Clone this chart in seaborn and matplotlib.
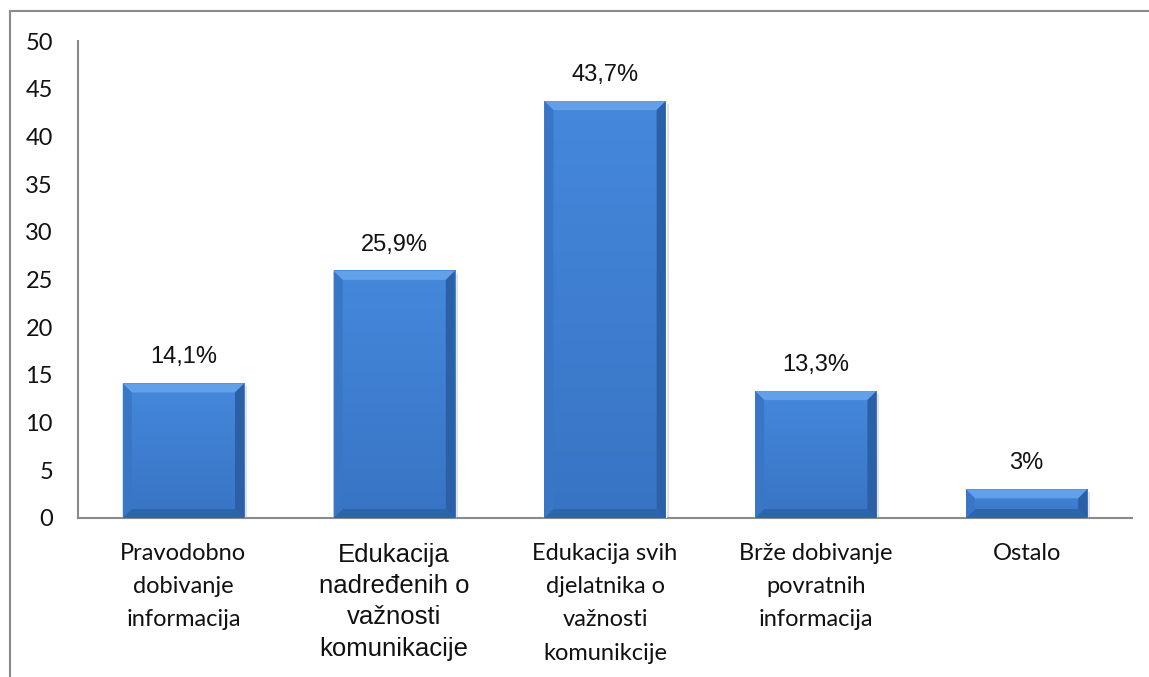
import matplotlib
import numpy as np
import pandas as pd
import seaborn as sns
from matplotlib import pyplot as plt
from matplotlib.lines import Line2D
from matplotlib.patches import Polygon

matplotlib.use("Agg")

categories = [
    "Pravodobno\ndobivanje\ninformacija",
    "Edukacija\nnadređenih o\nvažnosti\nkomunikacije",
    "Edukacija svih\ndjelatnika o\nvažnosti\nkomunikcije",
    "Brže dobivanje\npovratnih\ninformacija",
    "Ostalo",
]
values = [14.1, 25.9, 43.7, 13.3, 3.0]
value_labels = ["14,1%", "25,9%", "43,7%", "13,3%", "3%"]
y_ticks = list(range(0, 55, 5))

W, H = 1149, 677
sns.set_theme(style="white")
plt.rcParams["font.family"] = ["Lato", "DejaVu Sans"]

fig = plt.figure(figsize=(W / 100, H / 100), dpi=100)
ax = fig.add_axes([78 / W, 1 - 518 / H, (1132 - 78) / W, (518 - 41) / H])

df = pd.DataFrame({"cat": categories, "val": values})
sns.barplot(data=df, x="cat", y="val", color="#3d80d3", width=0.575,
            saturation=1, ax=ax, zorder=3)

ax.set_xlim(-0.5, 4.5)
ax.set_ylim(0, 50)
ax.set_yticks(y_ticks)
ax.set_xlabel("")
ax.set_ylabel("")
for s in ["top", "right"]:
    ax.spines[s].set_visible(False)
for s in ["left", "bottom"]:
    ax.spines[s].set_color("#8a8a8a")
    ax.spines[s].set_linewidth(1.5)
ax.tick_params(axis="y", length=0, pad=18, labelsize=17, labelcolor="#111111")
ax.tick_params(axis="x", length=0, pad=18, labelsize=17, labelcolor="#111111")

for lab in ax.get_xticklabels():
    lab.set_linespacing(1.72)
    lab.set_va("top")
xl = ax.get_xticklabels()
xl[1].set_fontfamily(["Liberation Sans", "DejaVu Sans"])
xl[1].set_fontsize(18.5)
xl[1].set_linespacing(1.38)

# pixel size in data units
px = 5 / (1132 - 78)
py = 50 / (518 - 41)
bev = 9

for patch, lab in zip(ax.patches, value_labels):
    x0, y0 = patch.get_x(), patch.get_y()
    w, h = patch.get_width(), patch.get_height()
    x1, y1 = x0 + w, y0 + h
    bx, by = bev * px, min(bev * py, h / 3)
    # shadow
    ax.add_patch(Polygon([(x0 + 2 * px, y0 - 3 * py), (x1 + 3 * px, y0 - 3 * py),
                          (x1 + 3 * px, y1 - 3 * py), (x0 + 2 * px, y1 - 3 * py)],
                         closed=True, color="#000000", alpha=0.12, lw=0, zorder=2))
    # face gradient
    grad = np.linspace(0, 1, 64).reshape(-1, 1)
    ax.imshow(grad, extent=(x0, x1, y0, y1), aspect="auto", origin="lower",
              cmap=matplotlib.colors.LinearSegmentedColormap.from_list(
                  "f", ["#3874c4", "#4588dc"]), zorder=3.5)
    # bevels
    ax.add_patch(Polygon([(x0, y1), (x1, y1), (x1 - bx, y1 - by), (x0 + bx, y1 - by)],
                         closed=True, color="#62a0ea", lw=0, zorder=4))
    ax.add_patch(Polygon([(x0, y0), (x1, y0), (x1 - bx, y0 + by), (x0 + bx, y0 + by)],
                         closed=True, color="#2e64ab", lw=0, zorder=4))
    ax.add_patch(Polygon([(x0, y0), (x0, y1), (x0 + bx, y1 - by), (x0 + bx, y0 + by)],
                         closed=True, color="#3a76c6", lw=0, zorder=4))
    ax.add_patch(Polygon([(x1, y0), (x1, y1), (x1 - bx, y1 - by), (x1 - bx, y0 + by)],
                         closed=True, color="#2c60a6", lw=0, zorder=4))
    ax.annotate(lab, (x0 + w / 2, y1), xytext=(0, 11), textcoords="offset points",
                ha="center", va="bottom", fontsize=17, color="#111111",
                family=["Liberation Sans", "DejaVu Sans"], zorder=5)

ax.set_xlim(-0.5, 4.5)
ax.set_ylim(0, 50)

# outer chart frame
fig.add_artist(Line2D([9.5 / W, 9.5 / W], [0, 1 - 11 / H], transform=fig.transFigure,
                      color="#8a8a8a", lw=1.5))
fig.add_artist(Line2D([9.5 / W, 1], [1 - 11 / H, 1 - 11 / H], transform=fig.transFigure,
                      color="#8a8a8a", lw=1.5))

fig.savefig("out.png", dpi=100)
